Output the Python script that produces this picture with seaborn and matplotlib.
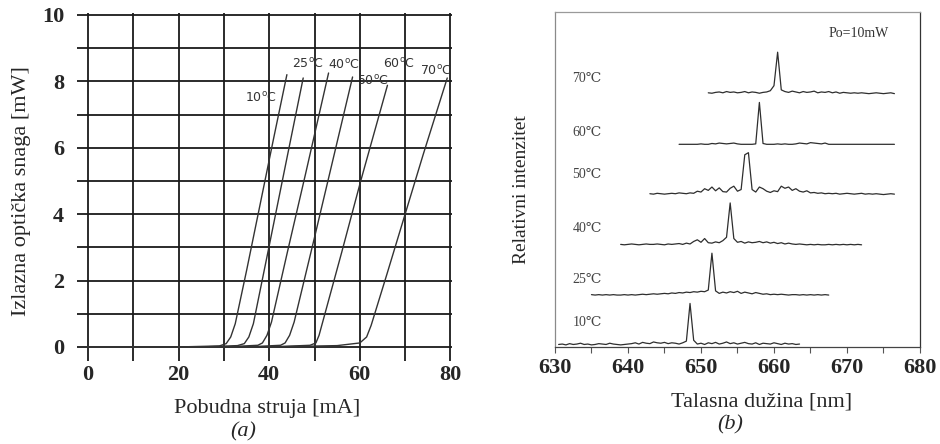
import numpy as np
import pandas as pd
import matplotlib
matplotlib.use("Agg")
import matplotlib.pyplot as plt
from matplotlib.ticker import MultipleLocator
import seaborn as sns

sns.set_style("white")
plt.rcParams["font.family"] = ["Liberation Serif", "DejaVu Serif"]
plt.rcParams["mathtext.fontset"] = "dejavusans"

# ---------------- Panel (a): L-I curves ----------------
temps_a = ["10", "25", "40", "50", "60", "70"]
current_10 = [0, 20, 29, 30.5, 31.5, 32.5, 35, 38, 41, 43.9]
power_10 = [0, 0, 0.03, 0.1, 0.3, 0.7, 2.3, 4.3, 6.3, 8.2]
current_25 = [0, 25, 33, 34.5, 35.5, 36.5, 40, 44, 47.5]
power_25 = [0, 0, 0.04, 0.1, 0.3, 0.7, 3.05, 5.75, 8.1]
current_40 = [0, 30, 37.5, 38.5, 39.5, 40.5, 44, 48, 53.1]
power_40 = [0, 0, 0.05, 0.12, 0.35, 0.75, 2.85, 5.2, 8.25]
current_50 = [0, 35, 42.5, 43.5, 44.5, 45.5, 50, 54, 58.4]
power_50 = [0, 0, 0.05, 0.12, 0.35, 0.75, 3.3, 5.6, 8.13]
current_60 = [0, 40, 49, 50.3, 51.0, 51.8, 56, 60.2, 66.1]
power_60 = [0, 0, 0.05, 0.12, 0.35, 0.75, 2.85, 5.0, 7.88]
current_70 = [0, 40, 55, 60, 61.5, 62.5, 66, 70, 74, 79.3]
power_70 = [0, 0, 0.04, 0.12, 0.3, 0.65, 2.2, 4.0, 5.8, 8.1]
label_x_a = [38.1, 48.5, 56.4, 62.9, 68.6, 76.7]
label_y_a = [7.5, 8.52, 8.5, 8.0, 8.52, 8.3]

currents = [current_10, current_25, current_40, current_50, current_60, current_70]
powers = [power_10, power_25, power_40, power_50, power_60, power_70]
df_a = pd.concat(
    [pd.DataFrame({"I": c, "P": p, "T": t}) for c, p, t in zip(currents, powers, temps_a)],
    ignore_index=True,
)

# ---------------- Panel (b): spectra ----------------
temps_b = ["10", "25", "40", "50", "60", "70"]
wl_start = [630.5, 635.0, 639.0, 643.0, 647.0, 651.0]   # nm, first sample
wl_step = 0.5
spec_10 = [2, 3, 1, 4, 2, 3, 5, 2, 3, 1, 2, 4, 3, 2, 5, 3, 2, 1, 2, 3,
           4, 6, 3, 7, 5, 4, 8, 6, 5, 7, 4, 6, 5, 3, 6, 10,
           100,
           12, 3, 5, 2, 6, 4, 7, 3, 5, 8, 4, 6, 3, 5, 7, 4, 3, 6, 2, 5, 4, 3, 6, 4, 2, 5, 3, 4, 2, 3]
spec_25 = [1, 0, 1, 0, 1, 0, 1, 0, 0, 1, 0, 1, 0,
           1, 2, 1, 2, 3, 2, 3, 4, 3, 5, 4, 6, 5, 7, 6, 8, 7, 9, 8, 12,
           100,
           10, 4, 7, 5, 8, 6, 9, 4, 7, 5, 3, 6, 4, 2, 3, 1, 2, 1, 2, 1, 0, 1, 1, 0, 1, 0, 1, 0, 1, 0, 1, 0]
spec_40 = [1, 0, 1, 2, 1, 0, 1, 2, 1, 1, 2, 1, 0, 2, 1, 2, 3, 1,
           4, 2, 8, 12, 6, 15, 5, 4, 7, 5, 10, 18,
           100,
           15, 6, 8, 4, 7, 5, 6, 8, 5, 7, 4, 6, 3, 5, 2, 4, 2, 1, 2, 1, 0, 1, 0, 1, 0, 0, 1, 0, 1, 0, 1, 0, 1, 0, 1, 0]
spec_50 = [2, 1, 3, 2, 1, 2, 3, 2, 4, 3, 2, 4, 3,
           8, 6, 14, 10, 18, 9, 16, 7, 6, 15, 20, 8, 12,
           95, 100,
           12, 6, 18, 14, 8, 5, 9, 7, 20, 15, 18, 10, 14, 8, 6, 9, 4, 5, 3, 4,
           2, 3, 2, 3, 1, 2, 3, 2, 1, 2, 3, 1, 2, 1, 2, 1, 0, 1, 2, 1]
spec_60 = [0, 0, 0, 0, 0, 0, 1, 0, 0, 2, 1, 3, 2, 1, 2, 3, 1, 0, 0, 0, 0, 1,
           100,
           2, 0, 0, 0, 1, 0, 1, 0, 0, 1, 3, 2, 1, 4, 3, 2, 1, 3, 0, 0, 0, 0, 0, 0, 0, 0, 0, 0, 0, 0, 0, 0, 0, 0, 0, 0, 0]
spec_70 = [3, 2, 4, 5, 3, 6, 4, 5, 3, 4, 6, 3, 5, 4, 2, 4, 5, 8, 20,
           100,
           10, 6, 4, 7, 5, 3, 6, 4, 5, 7, 3, 5, 4, 6, 3, 5, 2, 4, 3, 2, 3, 2, 3, 2, 1, 2, 3, 2, 1, 2, 3, 1]
label_y_b = [0.72, 2.0, 3.55, 5.16, 6.39, 8.0]

# layout (stack offsets / scale) -- styling, not data
offsets_b = [0.05, 1.55, 3.05, 4.55, 6.05, 7.55]
scale_b = 1.25 / 100

specs = [spec_10, spec_25, spec_40, spec_50, spec_60, spec_70]
frames = []
for s0, sp, off, t in zip(wl_start, specs, offsets_b, temps_b):
    wl = s0 + wl_step * np.arange(len(sp))
    frames.append(pd.DataFrame({"wl": wl, "y": off + scale_b * np.asarray(sp, float), "T": t}))
df_b = pd.concat(frames, ignore_index=True)

# ---------------- Figure ----------------
fig = plt.figure(figsize=(9.4, 4.44), dpi=100)

ax1 = fig.add_axes([0.0816, 0.1872, 0.3995, 0.783])
sns.lineplot(data=df_a, x="I", y="P", units="T", estimator=None, sort=False,
             color="#333333", lw=1.0, ax=ax1)
ax1.set_xlim(-2.5, 80.4)
ax1.set_ylim(-0.42, 10.05)
ax1.xaxis.set_major_locator(MultipleLocator(20))
ax1.xaxis.set_minor_locator(MultipleLocator(10))
ax1.yaxis.set_major_locator(MultipleLocator(2))
ax1.yaxis.set_minor_locator(MultipleLocator(1))
ax1.grid(True, which="both", color="#1a1a1a", lw=1.3)
ax1.set_axisbelow(True)
for sp in ax1.spines.values():
    sp.set_visible(False)
ax1.tick_params(which="both", length=0)
ax1.tick_params(axis="x", pad=3)
ax1.tick_params(axis="y", pad=9)
for lab in ax1.get_xticklabels() + ax1.get_yticklabels():
    lab.set_fontsize(16)
    lab.set_fontweight("bold")
ax1.set_xlabel("")
ax1.set_ylabel("")
for t, lx, ly in zip(temps_a, label_x_a, label_y_a):
    ax1.text(lx, ly, t + r"$^{\mathrm{o}}$C", fontsize=9, family="DejaVu Sans",
             color="#333333", ha="center", va="center")

fig.text(267 / 940, 1 - 408 / 444, "Pobudna struja [mA]", fontsize=16, ha="center", va="center")
fig.text(243 / 940, 1 - 432 / 444, "(a)", fontsize=16, style="italic", ha="center", va="center")
fig.text(22 / 940, 1 - 191 / 444, "Izlazna optička snaga [mW]", fontsize=16, rotation=90,
         ha="center", va="center")

ax2 = fig.add_axes([0.5904, 0.2185, 0.3883, 0.7545])
sns.lineplot(data=df_b, x="wl", y="y", units="T", estimator=None, sort=False,
             color="#2e2e2e", lw=0.9, ax=ax2)
ax2.set_xlim(630, 680)
ax2.set_ylim(0, 10)
ax2.xaxis.set_major_locator(MultipleLocator(10))
ax2.xaxis.set_minor_locator(MultipleLocator(5))
ax2.set_yticks([])
ax2.tick_params(axis="x", which="both", direction="out", length=4, width=0.8,
                color="#555555", pad=4, bottom=True)
for lab in ax2.get_xticklabels():
    lab.set_fontsize(16)
    lab.set_fontweight("bold")
ax2.spines["left"].set_color("#8a8a8a")
ax2.spines["top"].set_color("#9a9a9a")
ax2.spines["right"].set_color("#333333")
ax2.spines["bottom"].set_color("#444444")
for sp in ax2.spines.values():
    sp.set_linewidth(0.9)
ax2.set_xlabel("")
ax2.set_ylabel("")
for t, ly in zip(temps_b, label_y_b):
    ax2.text(634.4, ly, t + "℃", fontsize=10, color="#444444", ha="center", va="center")
ax2.text(671.6, 9.35, "Po=10mW", fontsize=10, color="#333333",
         ha="center", va="center")

fig.text(762 / 940, 1 - 402 / 444, "Talasna dužina [nm]", fontsize=16, ha="center", va="center")
fig.text(730 / 940, 1 - 425 / 444, "(b)", fontsize=16, style="italic", ha="center", va="center")
fig.text(522 / 940, 1 - 190 / 444, "Relativni intenzitet", fontsize=14, rotation=90,
         ha="center", va="center")

fig.savefig("out.png", dpi=100)
